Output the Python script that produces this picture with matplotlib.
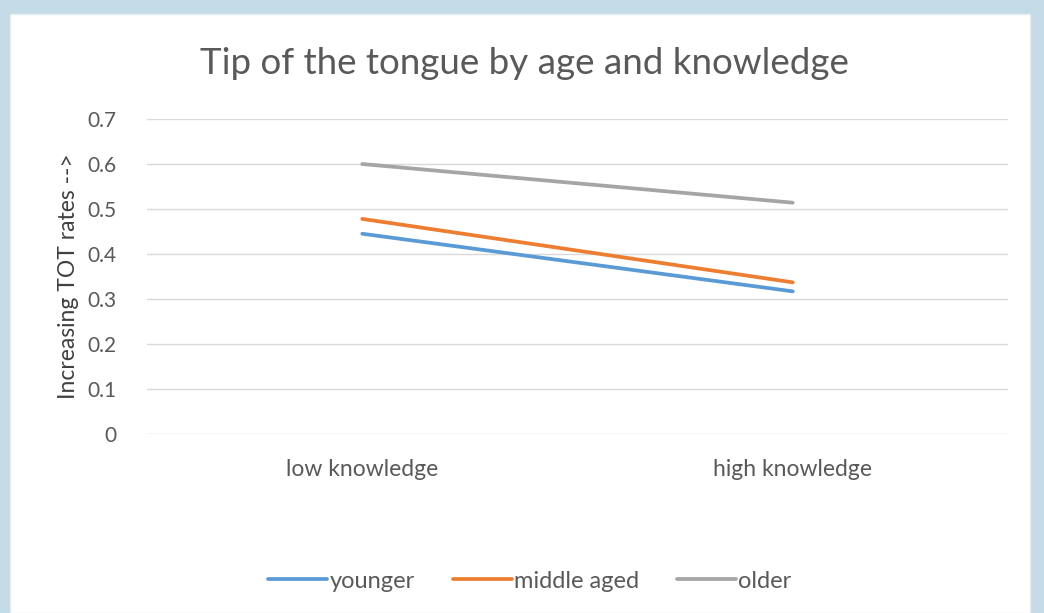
import matplotlib.pyplot as plt
from matplotlib.patches import Rectangle

# data
categories = ["low knowledge", "high knowledge"]
younger = [0.445, 0.317]
middle_aged = [0.478, 0.337]
older = [0.600, 0.514]
series_names = ["younger", "middle aged", "older"]
y_ticks = [0, 0.1, 0.2, 0.3, 0.4, 0.5, 0.6, 0.7]
y_tick_labels = ["0", "0.1", "0.2", "0.3", "0.4", "0.5", "0.6", "0.7"]

colors = ["#5B9BD5", "#ED7D31", "#A5A5A5"]
text_col = "#595959"

plt.rcParams["font.family"] = ["Lato", "DejaVu Sans"]

fig = plt.figure(figsize=(10.44, 6.13), dpi=100)
fig.patch.set_facecolor("#C4DAE7")
# white chart panel, kept behind the axes
fig.patches.append(Rectangle((10 / 1044, 0), 1020 / 1044, 1 - 14 / 613,
                             transform=fig.transFigure, facecolor="white",
                             edgecolor="#E4ECF2", lw=1, zorder=-5))

ax = fig.add_axes([147 / 1044, 1 - 434 / 613, 861 / 1044, 315 / 613])
ax.set_facecolor("none")

x = [0.5, 1.5]
for vals, name, c in zip([younger, middle_aged, older], series_names, colors):
    ax.plot(x, vals, color=c, lw=2.7, label=name, solid_capstyle="round")

ax.set_xlim(0, 2)
ax.set_ylim(0, 0.7)
ax.set_yticks(y_ticks)
ax.set_yticklabels(y_tick_labels)
ax.set_xticks(x)
ax.set_xticklabels(categories)
ax.grid(axis="y", color="#D9D9D9", lw=1)
ax.set_axisbelow(True)
for s in ax.spines.values():
    s.set_visible(False)
ax.tick_params(length=0, colors=text_col)
ax.tick_params(axis="y", pad=22, labelsize=15)
ax.tick_params(axis="x", pad=18, labelsize=16.5)

ax.set_ylabel("Increasing TOT rates -->", fontsize=16.5, color="#404040", labelpad=6)

fig.text(524 / 1044, 1 - 63 / 613, "Tip of the tongue by age and knowledge",
         ha="center", va="center", fontsize=26.5, color=text_col)

fig.legend(loc="center", bbox_to_anchor=(530 / 1044, 1 - 581 / 613), ncol=3,
           frameon=False, fontsize=17, labelcolor=text_col,
           handlelength=2.5, handletextpad=0.1, columnspacing=1.6)

fig.savefig("out.png", dpi=100, facecolor=fig.get_facecolor())
